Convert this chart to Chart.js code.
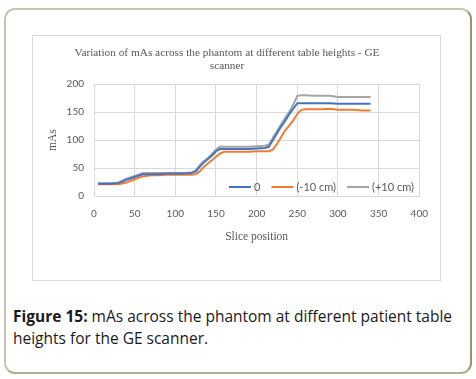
<!DOCTYPE html>
<html>
<head>
<meta charset="utf-8">
<script src="https://cdn.jsdelivr.net/npm/chart.js@4"></script>
<style>
  html, body { margin: 0; padding: 0; background: #fff; }
  body { width: 476px; height: 379px; position: relative; overflow: hidden; }
  .frame {
    position: absolute; left: 4px; top: 8px; width: 464px; height: 362px;
    border: 2px solid #c4c4b0; border-right-color: #a0916a; border-bottom-color: #b4ad90;
    border-radius: 11px;
  }
  .box {
    position: absolute; left: 32px; top: 35px; width: 407px; height: 244px;
    border: 1px solid #d9d9d9;
  }
  .box canvas { display: block; }
  .caption {
    position: absolute; left: 13px; top: 305px; width: 450px;
    font-family: "Open Sans", sans-serif; font-size: 15.5px; line-height: 22px; color: #1a1a1a;
  }
  .caption b { font-weight: 700; }
</style>
</head>
<body>
<div class="frame"></div>
<div class="box"><canvas id="chart" width="407" height="244"></canvas></div>
<div class="caption"><b>Figure 15:</b> mAs across the phantom at different patient table heights for the GE scanner.</div>
<script>
// slice positions where values were read
const slices = [5, 10, 20, 30, 40, 50, 60, 70, 80, 90, 100, 110, 120, 125, 130, 135, 140, 145, 150, 155, 160, 170, 180, 190, 200, 210, 215, 220, 225, 230, 235, 240, 245, 250, 255, 260, 270, 280, 290, 300, 310, 320, 330, 340];
const mas0 = [22, 22, 22, 23, 29, 34, 39, 39, 39, 40, 40, 40, 41, 44, 52, 60, 66, 72, 80, 84, 84, 84, 84, 84, 85, 86, 88, 100, 112, 124, 134, 146, 156, 166, 166, 166, 166, 166, 166, 165, 165, 165, 165, 165];
const masMinus10 = [21, 21, 21, 21, 24, 30, 35, 37, 37, 38, 38, 38, 38, 39, 44, 52, 58, 64, 70, 76, 79, 79, 79, 79, 80, 80, 80, 83, 93, 105, 117, 126, 135, 147, 154, 155, 155, 155, 156, 154, 154, 154, 153, 153];
const masPlus10 = [23, 23, 23, 24, 31, 36, 41, 41, 41, 41, 41, 41, 42, 46, 55, 62, 68, 75, 83, 88, 88, 88, 88, 88, 89, 90, 92, 104, 116, 128, 140, 150, 163, 179, 180, 180, 179, 179, 179, 177, 177, 177, 177, 177];
const seriesNames = ['0', '(-10 cm)', '(+10 cm)'];
const xTicks = [0, 50, 100, 150, 200, 250, 300, 350, 400];
const yTicks = [0, 50, 100, 150, 200];

const colors = ['#4472c4', '#ed7d31', '#a5a5a5'];
const grey = '#595959';

function pts(vals) {
  return slices.map(function (s, i) { return { x: s, y: vals[i] }; });
}

// legend drawn inside the plot area, like the original
const innerLegend = {
  id: 'innerLegend',
  afterDraw: function (chart) {
    const ctx = chart.ctx;
    const y = chart.chartArea.bottom - 9;
    let x = 196;
    ctx.save();
    ctx.font = '11px Lato, sans-serif';
    ctx.textBaseline = 'middle';
    chart.data.datasets.forEach(function (ds) {
      ctx.strokeStyle = ds.borderColor;
      ctx.lineWidth = 2;
      ctx.beginPath();
      ctx.moveTo(x, y);
      ctx.lineTo(x + 22, y);
      ctx.stroke();
      ctx.fillStyle = grey;
      ctx.fillText(ds.label, x + 25, y);
      x += 25 + ctx.measureText(ds.label).width + 11;
    });
    ctx.restore();
  }
};

new Chart(document.getElementById('chart'), {
  type: 'line',
  data: {
    datasets: [
      { label: seriesNames[0], data: pts(mas0), borderColor: colors[0] },
      { label: seriesNames[1], data: pts(masMinus10), borderColor: colors[1] },
      { label: seriesNames[2], data: pts(masPlus10), borderColor: colors[2] }
    ]
  },
  options: {
    responsive: false,
    animation: false,
    layout: { padding: { left: 0, right: 19, top: 0, bottom: 32 } },
    elements: {
      line: { borderWidth: 2, tension: 0 },
      point: { radius: 0 }
    },
    plugins: {
      legend: { display: false },
      tooltip: { enabled: false },
      title: {
        display: true,
        text: ['Variation of mAs across the phantom at different table heights - GE', 'scanner'],
        color: grey,
        font: { family: '"Liberation Serif", serif', size: 11.3, weight: 'normal', lineHeight: 1.2 },
        padding: { top: 10, bottom: 11 }
      }
    },
    scales: {
      x: {
        type: 'linear',
        min: 0, max: 400,
        afterBuildTicks: function (s) { s.ticks = xTicks.map(function (v) { return { value: v }; }); },
        grid: { color: '#d9d9d9', drawTicks: false },
        border: { color: '#d9d9d9' },
        ticks: { color: grey, font: { family: 'Lato, sans-serif', size: 10 }, padding: 12 },
        title: {
          display: true, text: 'Slice position', color: grey,
          font: { family: '"Liberation Serif", serif', size: 11.5 }, padding: { top: 4 }
        },
        afterFit: function (s) { s.height = 52; }
      },
      y: {
        min: 0, max: 200,
        afterBuildTicks: function (s) { s.ticks = yTicks.map(function (v) { return { value: v }; }); },
        grid: { color: '#d9d9d9', drawTicks: false },
        border: { display: false },
        ticks: { color: grey, font: { family: 'Lato, sans-serif', size: 10 }, padding: 10 },
        title: {
          display: true, text: 'mAs', color: grey,
          font: { family: '"Liberation Serif", serif', size: 11.5 }, padding: { top: 13, bottom: 4 }
        },
        afterFit: function (s) { s.width = 61; }
      }
    }
  },
  plugins: [innerLegend]
});
</script>
</body>
</html>
